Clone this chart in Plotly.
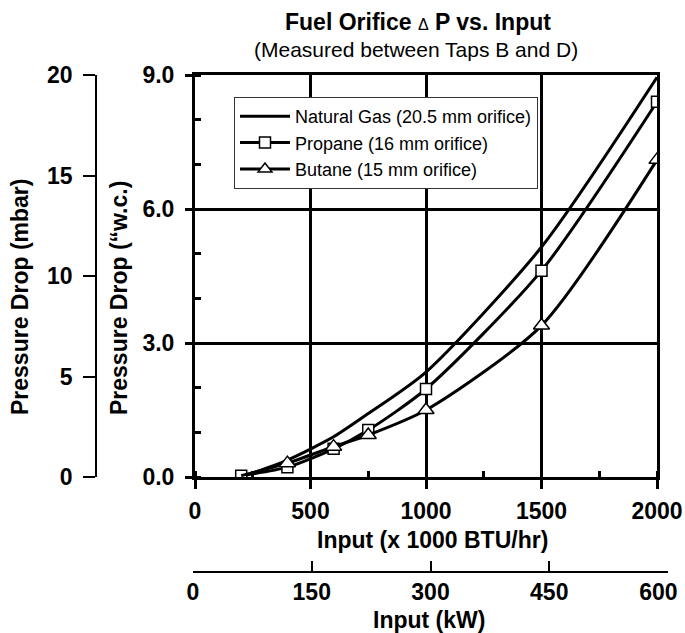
import plotly.graph_objects as go

# ---------------- data ----------------
input_kbtu = [200, 400, 600, 750, 1000, 1500, 2000]
natural_gas = [0.0, 0.38, 0.90, 1.42, 2.35, 5.15, 8.95]
propane = [0.03, 0.22, 0.63, 1.05, 1.97, 4.62, 8.40]
butane = [0.03, 0.31, 0.68, 0.94, 1.50, 3.39, 7.10]

series_names = ["Natural Gas (20.5 mm orifice)", "Propane (16 mm orifice)", "Butane (15 mm orifice)"]
x_ticks_btu = [0, 500, 1000, 1500, 2000]
x_ticks_kw = [0, 150, 300, 450, 600]
x_ticklabels_kw = ["0", "150", "300", "450", "600"]
y_ticks_wc = [0.0, 3.0, 6.0, 9.0]
y_ticks_mbar = [0, 5, 10, 15, 20]

# ---------------- layout geometry (pixels) ----------------
W, H = 685, 633
ML, MR, MT, MB = 96, 17, 75, 61
PW, PH = W - ML - MR, H - MT - MB


def px(xp):
    return (xp - ML) / PW


def py(yp):
    return (H - MB - yp) / PH


FONT = "Liberation Sans, Arial, sans-serif"
BLACK = "#000000"

fig = go.Figure()

line_style = dict(color=BLACK, width=3, shape="spline", smoothing=0.7)

fig.add_trace(go.Scatter(x=input_kbtu, y=natural_gas, name=series_names[0],
                         mode="lines", line=line_style))
fig.add_trace(go.Scatter(x=input_kbtu, y=propane, name=series_names[1],
                         mode="lines+markers", line=line_style,
                         marker=dict(symbol="square", size=11, color="#ffffff", opacity=1,
                                     line=dict(color=BLACK, width=1.5))))
butane_sizes = [0] + [14] * (len(butane) - 1)
fig.add_trace(go.Scatter(x=input_kbtu, y=butane, name=series_names[2],
                         mode="lines+markers", line=line_style,
                         marker=dict(symbol="triangle-up", size=butane_sizes, color="#ffffff", opacity=1,
                                     line=dict(color=BLACK, width=1.5))))

# dummy traces so that secondary (scale-only) axes are drawn
fig.add_trace(go.Scatter(x=[None], y=[None], xaxis="x2", yaxis="y3",
                         showlegend=False, hoverinfo="skip"))
fig.add_trace(go.Scatter(x=[None], y=[None], xaxis="x3", yaxis="y2",
                         showlegend=False, hoverinfo="skip"))

tick_font = dict(family=FONT, size=23, color=BLACK, weight="bold")

main_x_domain = [px(195), px(657)]
main_y_domain = [py(477), 1.0]

# last kW label is nudged left (as in the reference) so it stays inside the page
kw_text = x_ticklabels_kw[:-1] + [x_ticklabels_kw[-1] + "\u00a0\u00a0\u00a0"]

fig.update_layout(
    width=W, height=H,
    margin=dict(l=ML, r=MR, t=MT, b=MB, autoexpand=False),
    paper_bgcolor="white", plot_bgcolor="white",
    font=dict(family=FONT, color=BLACK),
    xaxis=dict(
        domain=main_x_domain, range=[0, 2000], tickvals=x_ticks_btu,
        showline=True, linewidth=3, linecolor=BLACK, mirror=True,
        showgrid=True, gridcolor=BLACK, gridwidth=3, zeroline=False,
        ticks="outside", ticklen=9, tickwidth=3, tickcolor=BLACK,
        tickfont=tick_font, ticklabelstandoff=2, ticklabeloverflow="allow",
        minor=dict(dtick=250, tick0=0, ticks="inside", ticklen=6, tickwidth=3,
                   tickcolor=BLACK, showgrid=False),
        automargin=False, fixedrange=True,
    ),
    yaxis=dict(
        domain=main_y_domain, range=[0, 9], tickvals=y_ticks_wc, tickformat=".1f",
        showline=True, linewidth=3, linecolor=BLACK, mirror=True,
        showgrid=True, gridcolor=BLACK, gridwidth=3, zeroline=False,
        ticks="outside", ticklen=7, tickwidth=3, tickcolor=BLACK,
        tickfont=tick_font, ticklabelstandoff=6, ticklabeloverflow="allow",
        minor=dict(dtick=1, tick0=0, ticks="inside", ticklen=6, tickwidth=3,
                   tickcolor=BLACK, showgrid=False),
        automargin=False, fixedrange=True,
    ),
    # kW axis (bottom)
    xaxis2=dict(
        domain=[px(193), px(668)], range=[0, 600], tickvals=x_ticks_kw, ticktext=kw_text,
        anchor="free", position=0, side="bottom",
        showline=True, linewidth=1.5, linecolor=BLACK, showgrid=False, zeroline=False,
        ticks="inside", ticklen=10, tickwidth=1.5, tickcolor=BLACK,
        tickfont=tick_font, ticklabelstandoff=0, ticklabeloverflow="allow",
        automargin=False, fixedrange=True,
    ),
    yaxis3=dict(domain=[0, 0.01], visible=False, showgrid=False, range=[0, 1]),
    # mbar axis (left)
    yaxis2=dict(
        domain=main_y_domain, range=[0, 20], tickvals=y_ticks_mbar,
        anchor="free", position=0, side="left",
        showline=True, linewidth=1.5, linecolor=BLACK, showgrid=False, zeroline=False,
        ticks="outside", ticklen=12, tickwidth=1.5, tickcolor=BLACK,
        tickfont=tick_font, ticklabelstandoff=6, ticklabeloverflow="allow",
        automargin=False, fixedrange=True,
    ),
    xaxis3=dict(domain=[0, 0.01], visible=False, showgrid=False, range=[0, 1]),
    legend=dict(
        x=px(234), y=py(97), xanchor="left", yanchor="top",
        bgcolor="white", bordercolor="#333333", borderwidth=1,
        font=dict(family=FONT, size=18, color=BLACK),
        tracegroupgap=0, itemwidth=50,
    ),
    showlegend=True,
)

annotations = [
    dict(text="<b>Fuel Orifice <span style='font-size:16px;font-weight:normal'>Δ</span> P vs. Input</b>",
         x=px(418), y=py(22), font=dict(size=23)),
    dict(text="(Measured between Taps B and D)", x=px(416), y=py(49), font=dict(size=21)),
    dict(text="<b>Input (x 1000 BTU/hr)</b>", x=px(432), y=py(540), font=dict(size=23)),
    dict(text="<b>Input (kW)</b>", x=px(429), y=py(620), font=dict(size=23)),
    dict(text="<b>Pressure Drop (“w.c.)</b>", x=px(119), y=py(298), font=dict(size=23), textangle=-90),
    dict(text="<b>Pressure Drop (mbar)</b>", x=px(20), y=py(297), font=dict(size=23), textangle=-90),
]
for a in annotations:
    a.update(xref="paper", yref="paper", xanchor="center", yanchor="middle", showarrow=False)
    a["font"].update(family=FONT, color=BLACK)
fig.update_layout(annotations=annotations)

fig.write_html("out.html", config={"displayModeBar": False},
               post_script="document.body.style.margin='0';document.body.style.overflow='hidden';")
